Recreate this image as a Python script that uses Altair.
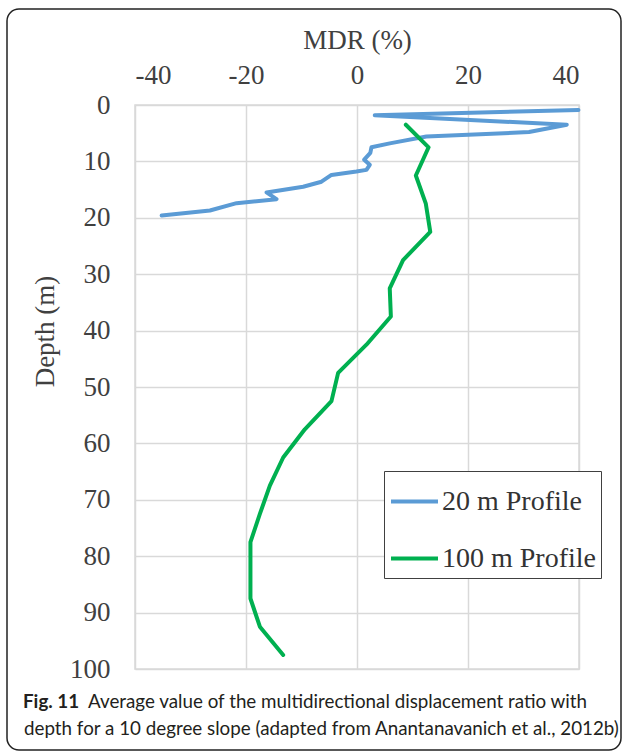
import altair as alt
import pandas as pd

# 20 m profile: MDR (%) against depth (m), in the order the line is traced
mdr_20 = [39.9, 3.2, 37.8, 31.0, 12.5, 5.9, 2.6, 2.4, 1.3, 2.3, 1.7, -0.1,
          -4.6, -6.4, -9.7, -16.3, -14.5, -21.7, -26.5, -35.2]
depth_20 = [0.9, 1.8, 3.5, 4.8, 5.6, 6.8, 7.5, 8.5, 9.7, 10.6, 11.5, 11.8,
            12.4, 13.6, 14.5, 15.5, 16.7, 17.4, 18.7, 19.6]

# 100 m profile
mdr_100 = [8.8, 12.9, 10.6, 12.4, 13.2, 8.3, 5.9, 6.1, 1.7, -3.4, -4.6, -9.4,
           -13.3, -15.7, -17.5, -19.2, -19.2, -19.2, -17.5, -13.3]
depth_100 = [3.5, 7.5, 12.5, 17.5, 22.5, 27.5, 32.5, 37.5, 42.5, 47.5, 52.5,
             57.5, 62.5, 67.5, 72.5, 77.5, 82.5, 87.5, 92.5, 97.5]

series = ["20 m Profile", "100 m Profile"]
colors = ["#5B9BD5", "#00B050"]
x_ticks = [-40, -20, 0, 20, 40]
y_ticks = [0, 10, 20, 30, 40, 50, 60, 70, 80, 90, 100]

caption_bold = "Fig. 11"
caption_line1 = "Average value of the multidirectional displacement ratio with"
caption_line2 = "depth for a 10 degree slope (adapted from Anantanavanich et al., 2012b)"

rows = []
for name, xs, ys in [(series[0], mdr_20, depth_20), (series[1], mdr_100, depth_100)]:
    for i, (m, d) in enumerate(zip(xs, ys)):
        rows.append({"profile": name, "mdr": m, "depth": d, "seq": i})
df = pd.DataFrame(rows)

W, H = 444, 564
LEFT, TOP = 135, 105
SERIF = "Liberation Serif"
SANS = "Lato"
CAP_SIZE = 18.8

lines = alt.Chart(df).mark_line(strokeWidth=4, strokeCap="round", strokeJoin="round").encode(
    x=alt.X("mdr:Q",
            scale=alt.Scale(domain=[-40, 40], nice=False, zero=False),
            axis=alt.Axis(orient="top", values=x_ticks, title="MDR (%)",
                          labelExpr="'' + datum.value",
                          labelBaseline="alphabetic", labelPadding=22,
                          titleBaseline="alphabetic", titleY=-57)),
    y=alt.Y("depth:Q",
            scale=alt.Scale(domain=[0, 100], reverse=True, nice=False),
            axis=alt.Axis(values=y_ticks, title="Depth (m)", labelPadding=25,
                          labelBaseline="middle",
                          titleX=-90, titleY=226, titleBaseline="middle",
                          titleAlign="center")),
    color=alt.Color("profile:N",
                    scale=alt.Scale(domain=series, range=colors),
                    legend=alt.Legend(title=None, orient="none", legendX=249, legendY=366,
                                      symbolType="stroke", symbolSize=2209,
                                      symbolStrokeWidth=4, labelFont=SERIF,
                                      labelFontSize=28, labelColor="#333333",
                                      labelOffset=2, padding=5, rowPadding=17,
                                      strokeColor="#404040", fillColor="white")),
    order=alt.Order("seq:Q"),
)

one = alt.Data(values=[{"k": 0}])

frame = alt.Chart(one).mark_rect(fillOpacity=0, stroke="#222222", strokeWidth=1.5,
                                 cornerRadius=12).encode(
    x=alt.value(7 - LEFT), x2=alt.value(621 - LEFT),
    y=alt.value(9 - TOP), y2=alt.value(750 - TOP),
)

cap_a = alt.Chart(one).mark_text(text=caption_bold, font=SANS, fontSize=CAP_SIZE, fontWeight="bold",
                                 align="left", baseline="alphabetic", color="#231f20").encode(
    x=alt.value(23 - LEFT), y=alt.value(708 - TOP))
cap_b = alt.Chart(one).mark_text(text=caption_line1, font=SANS, fontSize=CAP_SIZE,
                                 align="left", baseline="alphabetic", color="#231f20").encode(
    x=alt.value(88 - LEFT), y=alt.value(708 - TOP))
cap_c = alt.Chart(one).mark_text(text=caption_line2, font=SANS, fontSize=CAP_SIZE,
                                 align="left", baseline="alphabetic", color="#231f20").encode(
    x=alt.value(24 - LEFT), y=alt.value(735 - TOP))

chart = alt.layer(frame, lines, cap_a, cap_b, cap_c).properties(
    width=W, height=H,
    autosize="none",
    padding={"left": LEFT, "top": TOP, "right": 627 - LEFT - W, "bottom": 753 - TOP - H},
    background="white",
).configure_view(stroke="#d9d9d9", strokeWidth=1.5).configure_axis(
    grid=True, gridColor="#d9d9d9", gridWidth=1.5, domain=False, ticks=False, tickSize=0,
    labelFont=SERIF, labelFontSize=27, labelColor="#404040",
    titleFont=SERIF, titleFontSize=27, titleColor="#404040", titleFontWeight="normal",
)

chart.save("out.html", embed_options={"renderer": "svg", "actions": False})
